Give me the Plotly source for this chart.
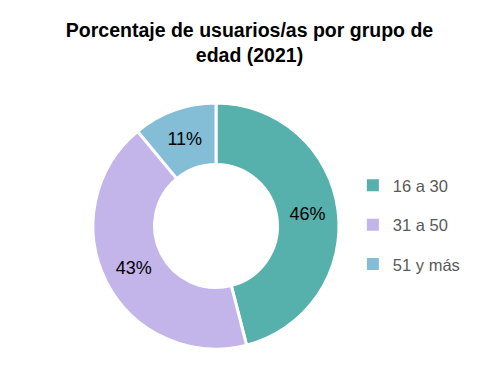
import plotly.graph_objects as go

categories = ["16 a 30", "31 a 50", "51 y más"]
values = [46, 43, 11]
colors = ["#56B0AB", "#C3B4EA", "#83BDD6"]

fig = go.Figure()
fig.add_trace(go.Pie(
    labels=categories, values=values, hole=0.5, sort=False,
    direction="clockwise", rotation=0,
    marker=dict(colors=colors, line=dict(color="white", width=3)),
    texttemplate="%{value}%", textposition="inside",
    insidetextorientation="horizontal",
    textfont=dict(family="Liberation Sans, Arial", size=18, color="#000000"),
    domain=dict(x=[85/483, 331/483], y=[34/376, 282/376]),
    showlegend=False, hoverinfo="label+percent",
))
for i, (c, col) in enumerate(zip(categories, colors)):
    fig.add_trace(go.Scatter(
        x=[None], y=[None], mode="markers", name=c, legendgroup=c,
        marker=dict(symbol="square", size=9, color=col),
    ))

fig.update_layout(
    width=483, height=376,
    margin=dict(l=0, r=0, t=0, b=0),
    paper_bgcolor="white", plot_bgcolor="white",
    title=dict(text="<b>Porcentaje de usuarios/as por grupo de<br>edad (2021)</b>",
               x=0.5, xanchor="center", y=0.924, yanchor="top",
               font=dict(family="Liberation Sans, Arial", size=19.5, color="#000000")),
    legend=dict(x=0.714, y=0.423, xanchor="left", yanchor="middle",
                font=dict(family="Liberation Sans, Arial", size=16.5, color="#595959"),
                tracegroupgap=15, itemsizing="constant", bgcolor="rgba(0,0,0,0)"),
    xaxis=dict(visible=False), yaxis=dict(visible=False),
)
fig.write_html("out.html")
